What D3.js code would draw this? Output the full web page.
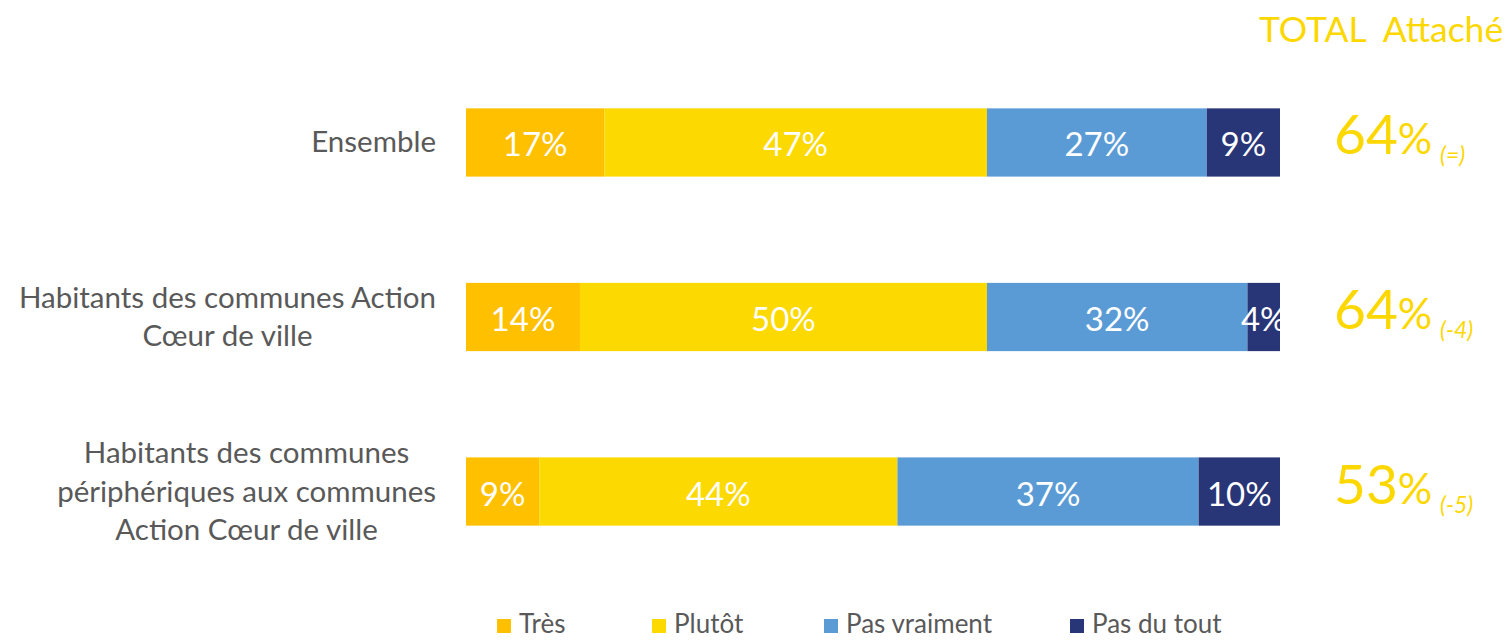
<!DOCTYPE html>
<html>
<head>
<meta charset="utf-8">
<script src="https://cdn.jsdelivr.net/npm/d3@7"></script>
<style>
  html, body { margin: 0; padding: 0; background: #fff; }
  svg { display: block; font-family: Lato, "Open Sans", sans-serif; }
</style>
</head>
<body>
<svg id="chart" width="1512" height="640"></svg>
<script>
// ---- data ----
const categories = [
  ["Ensemble"],
  ["Habitants des communes Action", "Cœur de ville"],
  ["Habitants des communes", "périphériques aux communes", "Action Cœur de ville"]
];
const seriesNames = ["Très", "Plutôt", "Pas vraiment", "Pas du tout"];
const tres        = [17, 14, 9];
const plutot      = [47, 50, 44];
const pasVraiment = [27, 32, 37];
const pasDuTout   = [9, 4, 10];
const totalAttache = [64, 64, 53];
const evolution    = ["(=)", "(-4)", "(-5)"];
const totalTitle   = "TOTAL\u00a0\u00a0Attaché";

const colors = ["#FFC000", "#FCD900", "#5B9BD5", "#283577"];
const textGray = "#595959";
const totalColor = "#FCD700";

// ---- layout ----
const svg = d3.select("#chart");
const x = d3.scaleLinear().domain([0, 100]).range([466, 1280]);
const y = d3.scaleBand().domain(d3.range(categories.length)).range([56, 578]).paddingInner(0.609).paddingOuter(0.3);

const seriesValues = [tres, plutot, pasVraiment, pasDuTout];
const rows = categories.map((c, i) => {
  const r = { idx: i };
  seriesNames.forEach((s, k) => r[s] = seriesValues[k][i]);
  return r;
});
const stacked = d3.stack().keys(seriesNames)(rows);

svg.append("defs").append("clipPath").attr("id", "barclip")
  .append("rect").attr("x", x(0)).attr("y", 0).attr("width", x(100) - x(0)).attr("height", 640);

const gBars = svg.append("g").attr("clip-path", "url(#barclip)");
stacked.forEach((layer, k) => {
  const g = gBars.append("g");
  g.selectAll("rect").data(layer).join("rect")
    .attr("x", d => x(d[0]))
    .attr("y", (d, i) => y(i))
    .attr("width", d => x(d[1]) - x(d[0]))
    .attr("height", y.bandwidth())
    .attr("fill", colors[k]);
  g.selectAll("text").data(layer).join("text")
    .attr("x", d => (x(d[0]) + x(d[1])) / 2)
    .attr("y", (d, i) => y(i) + y.bandwidth() / 2 + 14)
    .attr("text-anchor", "middle")
    .attr("fill", "#fff")
    .attr("font-size", 33)
    .text(d => (d[1] - d[0]) + "%");
});

// category labels (centered block, right-aligned at 435)
categories.forEach((lines, i) => {
  const cy = y(i) + y.bandwidth() / 2;
  const t = svg.append("text")
    .attr("fill", textGray)
    .attr("font-size", 29.5)
    .attr("text-anchor", "middle");
  const spans = lines.map((ln, j) =>
    t.append("tspan")
      .attr("y", cy + 10 + (j - (lines.length - 1) / 2) * 38.5)
      .text(ln));
  const maxW = d3.max(spans, s => s.node().getComputedTextLength());
  spans.forEach(s => s.attr("x", 436 - maxW / 2));
});

// totals
svg.append("text")
  .attr("x", 1259).attr("y", 42)
  .attr("fill", totalColor)
  .attr("font-size", 35.5)
  .text(totalTitle);

totalAttache.forEach((v, i) => {
  const cy = y(i) + y.bandwidth() / 2;
  const t = svg.append("text")
    .attr("x", 1334).attr("y", cy + 12)
    .attr("fill", totalColor);
  t.append("tspan").attr("font-size", 55).text(v);
  t.append("tspan").attr("font-size", 43).text("%");
  svg.append("text")
    .attr("x", 1440).attr("y", cy + 21)
    .attr("fill", totalColor)
    .attr("font-size", 23)
    .attr("font-style", "italic")
    .text(evolution[i]);
});

// legend
const legendX = [497, 652, 824, 1070];
const lg = svg.append("g");
seriesNames.forEach((s, k) => {
  lg.append("rect").attr("x", legendX[k]).attr("y", 619).attr("width", 14).attr("height", 14).attr("fill", colors[k]);
  lg.append("text").attr("x", legendX[k] + 22).attr("y", 633)
    .attr("fill", textGray).attr("font-size", 26).text(s);
});
</script>
</body>
</html>
